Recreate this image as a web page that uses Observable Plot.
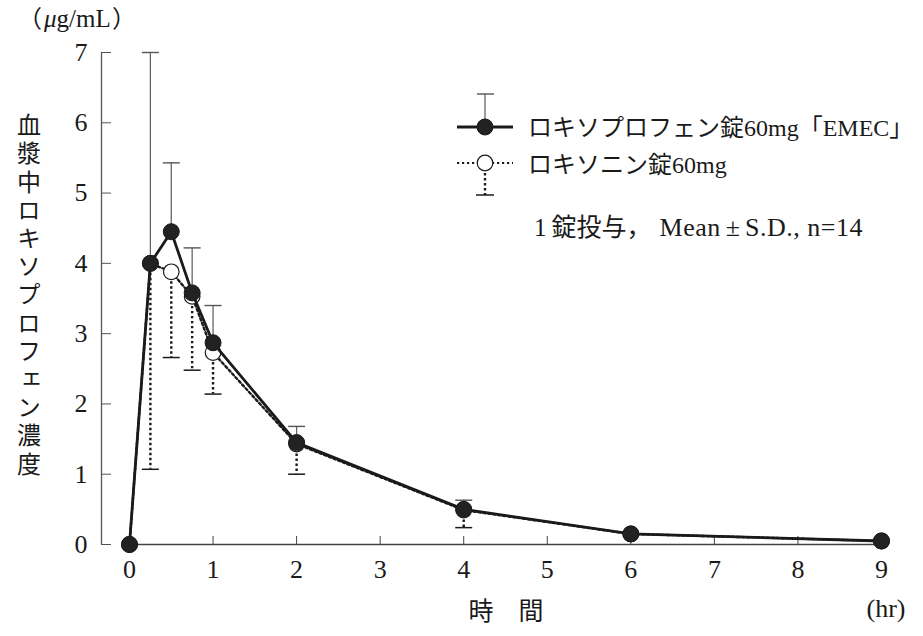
<!DOCTYPE html>
<html><head><meta charset="utf-8">
<script src="https://cdn.jsdelivr.net/npm/d3@7"></script>
<script src="https://cdn.jsdelivr.net/npm/@observablehq/plot@0.6"></script>
<style>
body{margin:0;background:#fff}
#chart{position:relative;width:923px;height:636px}
</style>
</head><body><div id="chart"></div>
<script>
// ---- data ----
const times       = [0, 0.25, 0.5, 0.75, 1, 2, 4, 6, 9];
const emecMean    = [0, 4.00, 4.45, 3.58, 2.87, 1.45, 0.50, 0.15, 0.05];
const emecUpper   = [null, 7.00, 5.43, 4.22, 3.40, 1.68, 0.63, null, null];
const loxMean     = [0, 4.00, 3.88, 3.53, 2.73, 1.43, 0.49, 0.15, 0.05];
const loxLower    = [null, 1.07, 2.66, 2.48, 2.14, 1.00, 0.24, null, null];
const xTicks = [0, 1, 2, 3, 4, 5, 6, 7, 8, 9];
const yTicks = [0, 1, 2, 3, 4, 5, 6, 7];
const seriesNames = ["ロキソプロフェン錠60mg「EMEC」", "ロキソニン錠60mg"];
const yLabel = "血漿中ロキソプロフェン濃度";
const unitLabel = "（μg/mL）";
const xLabel = "時　間";
const xUnit = "(hr)";

const emec = times.map((t, i) => ({t, y: emecMean[i], hi: emecUpper[i]}));
const lox  = times.map((t, i) => ({t, y: loxMean[i], lo: loxLower[i]}));

const serif = "'Liberation Serif', 'Times New Roman', 'Noto Sans CJK JP', serif";
const cjk = "'Noto Sans CJK JP', sans-serif";
const xMin = -0.335;
const ink = "#1a1a1a";

const cap = {draw(ctx, size) { const r = Math.sqrt(size / Math.PI); ctx.moveTo(-r, 0); ctx.lineTo(r, 0); }};

const plot = Plot.plot({
  width: 923, height: 636,
  marginLeft: 101, marginRight: 42, marginTop: 52, marginBottom: 92,
  x: {domain: [xMin, 9]},
  y: {domain: [0, 7]},
  style: {background: "white"},
  marks: [
    // axes
    Plot.ruleX([xMin], {y1: 0, y2: 7, stroke: "#555", strokeWidth: 1.3}),
    Plot.ruleY([0], {x1: 0, x2: 9, stroke: "#444", strokeWidth: 1.3}),
    Plot.axisY(yTicks, {tickSize: 10, dx: 10, tickFormat: () => "", stroke: "#555", label: null}),
    Plot.axisY(yTicks, {tickSize: 0, tickPadding: 14, label: null, fill: ink, tickFormat: d => String(d)}),
    Plot.axisX(xTicks, {tickSize: 8, dy: -8, tickFormat: () => "", stroke: "#444", label: null}),
    Plot.axisX(xTicks, {tickSize: 0, tickPadding: 15, label: null, fill: ink, tickFormat: d => String(d)}),
    // Loxonin series
    Plot.line(lox, {x: "t", y: "y", stroke: ink, strokeWidth: 2.4, strokeDasharray: "2.4,2.6"}),
    Plot.ruleX(lox.filter(d => d.lo != null), {x: "t", y1: "y", y2: "lo", stroke: ink, strokeWidth: 2.4, strokeDasharray: "2.4,2.6"}),
    Plot.dot(lox.filter(d => d.lo != null), {x: "t", y: "lo", symbol: cap, r: 8.5, stroke: ink, strokeWidth: 1.5, fill: "none"}),
    Plot.dot(lox, {x: "t", y: "y", r: 7.8, fill: "white", stroke: ink, strokeWidth: 1.2}),
    // EMEC series
    Plot.line(emec, {x: "t", y: "y", stroke: ink, strokeWidth: 2.8}),
    Plot.ruleX(emec.filter(d => d.hi != null), {x: "t", y1: "y", y2: "hi", stroke: "#666", strokeWidth: 1.3}),
    Plot.dot(emec.filter(d => d.hi != null), {x: "t", y: "hi", symbol: cap, r: 8.5, stroke: "#555", strokeWidth: 1.4, fill: "none"}),
    Plot.dot(emec, {x: "t", y: "y", r: 8, fill: "#222", stroke: ink, strokeWidth: 1})
  ]
});
document.getElementById("chart").appendChild(plot);

// ---- tick label fonts ----
const svg = d3.select(plot);
svg.selectAll("text").style("font-family", serif).style("font-size", "26px");

// ---- extra text & legend ----
const g = svg.append("g").attr("fill", ink).attr("text-anchor", "start");

// unit label
g.append("text").attr("x", 18).attr("y", 27).attr("font-family", cjk).attr("font-size", 24).text(unitLabel.slice(0,1));
g.append("text").attr("x", 44).attr("y", 27).attr("font-family", serif).attr("font-size", 25)
  .call(t => { t.append("tspan").attr("font-style", "italic").text(unitLabel.slice(1,2)); t.append("tspan").text(unitLabel.slice(2,-1)); });
g.append("text").attr("x", 112).attr("y", 27).attr("font-family", cjk).attr("font-size", 24).text(unitLabel.slice(-1));

// vertical y label
g.append("text").attr("x", 29).attr("y", 113)
  .attr("font-family", cjk).attr("font-size", 24)
  .style("writing-mode", "vertical-rl").style("text-orientation", "upright")
  .attr("letter-spacing", 4.2).text(yLabel);

// x label
g.append("text").attr("x", 506).attr("y", 620).attr("text-anchor", "middle").attr("font-family", cjk).attr("font-size", 25).text(xLabel);
g.append("text").attr("x", 886).attr("y", 617).attr("text-anchor", "middle").attr("font-family", serif).attr("font-size", 26).text(xUnit);

// legend
const lg = svg.append("g").attr("text-anchor", "start");
// row 1
lg.append("line").attr("x1", 457).attr("x2", 513).attr("y1", 127).attr("y2", 127).attr("stroke", ink).attr("stroke-width", 2.8);
lg.append("line").attr("x1", 485).attr("x2", 485).attr("y1", 94).attr("y2", 127).attr("stroke", "#666").attr("stroke-width", 1.3);
lg.append("line").attr("x1", 477).attr("x2", 494).attr("y1", 94).attr("y2", 94).attr("stroke", "#555").attr("stroke-width", 1.4);
lg.append("circle").attr("cx", 485).attr("cy", 127).attr("r", 8).attr("fill", "#222").attr("stroke", ink);
lg.append("text").attr("x", 528).attr("y", 136).attr("font-family", serif).attr("font-size", 24).attr("fill", ink).text(seriesNames[0]);
// row 2
lg.append("line").attr("x1", 457).attr("x2", 513).attr("y1", 163).attr("y2", 163).attr("stroke", ink).attr("stroke-width", 2.2).attr("stroke-dasharray", "2.2,2.8");
lg.append("line").attr("x1", 485).attr("x2", 485).attr("y1", 163).attr("y2", 195).attr("stroke", ink).attr("stroke-width", 2.4).attr("stroke-dasharray", "2.4,2.6");
lg.append("line").attr("x1", 476).attr("x2", 494).attr("y1", 195).attr("y2", 195).attr("stroke", ink).attr("stroke-width", 1.5);
lg.append("circle").attr("cx", 485).attr("cy", 163).attr("r", 7.8).attr("fill", "white").attr("stroke", ink).attr("stroke-width", 1.2);
lg.append("text").attr("x", 528).attr("y", 173).attr("font-family", serif).attr("font-size", 24).attr("fill", ink).text(seriesNames[1]);

// annotation
const ann = lg.append("text").attr("x", 534).attr("y", 236).attr("font-family", serif).attr("font-size", 25).attr("fill", ink);
ann.append("tspan").text("1");
ann.append("tspan").attr("dx", 5).text("錠投与，");
ann.append("tspan").attr("dx", 8).attr("font-size", 26).attr("letter-spacing", 0.5).text("Mean");
ann.append("tspan").attr("dx", 5).attr("font-size", 26).text("±");
ann.append("tspan").attr("dx", 5).attr("font-size", 26).attr("letter-spacing", 0.5).text("S.D., n=14");
</script>
</body></html>
